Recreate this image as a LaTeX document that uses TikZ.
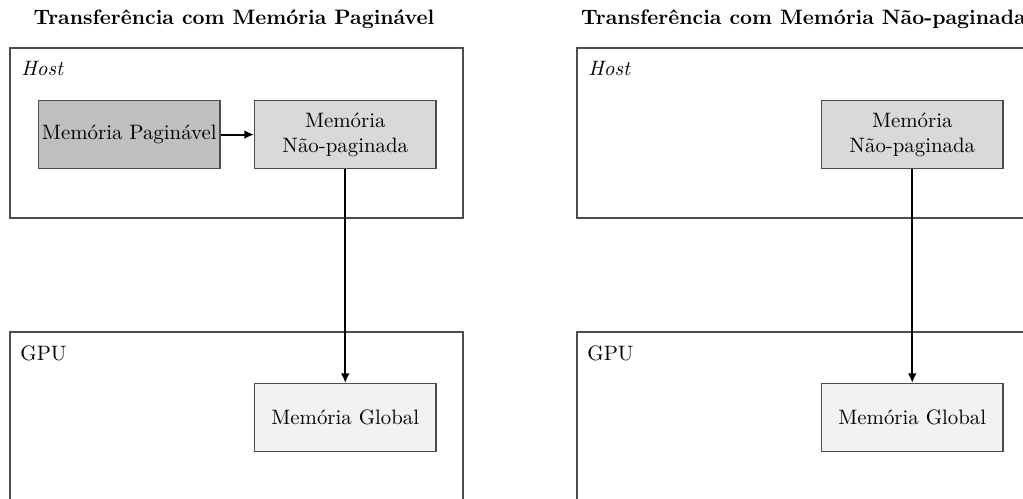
\documentclass[tikz,border=0pt]{standalone}
\usetikzlibrary{arrows.meta}
\definecolor{pagfill}{gray}{0.75}
\definecolor{pinfill}{gray}{0.85}
\definecolor{globfill}{gray}{0.95}
\tikzset{
  region/.style={draw=black!70, line width=0.6pt},
  membox/.style={draw=black!70, line width=0.6pt, minimum width=87pt, minimum height=32.6pt, inner sep=0pt, align=center, anchor=north west},
  flow/.style={-{Latex[length=4.6pt,width=4.2pt]}, line width=1pt},
  paneltitle/.style={font=\bfseries},
  regionlabel/.style={anchor=north west, inner sep=0pt}
}
\begin{document}
\begin{tikzpicture}[x=0.48pt,y=-0.48pt]
\useasboundingbox (0,0) rectangle (1023,499);
\clip (0,0) rectangle (1023,499);

% left panel: pageable memory path
\node[paneltitle] (t1) at (234,19) {Transferência com Memória Paginável};
\draw[region] (10,48) rectangle (463,218);
\node[regionlabel] (h1) at (21,61) {\textit{Host}};
\draw[region] (10,332) rectangle (463,520);
\node[regionlabel] (g1) at (20,345) {GPU};
\node[membox, fill=pagfill] (pag1) at (38,100) {Memória Paginável};
\node[membox, fill=pinfill] (pin1) at (254,100) {Memória\\Não-paginada};
\node[membox, fill=globfill] (glob1) at (254,383) {Memória Global};
\draw[flow] (pag1) -- (pin1);
\draw[flow] (pin1.south) -- (glob1.north);

% right panel: pinned memory path
\node[paneltitle] (t2) at (803.5,19) {Transferência com Memória Não-paginada};
\draw[region] (577,48) rectangle (1030,218);
\node[regionlabel] (h2) at (588,61) {\textit{Host}};
\draw[region] (577,332) rectangle (1030,520);
\node[regionlabel] (g2) at (587,345) {GPU};
\node[membox, fill=pinfill] (pin2) at (821,100) {Memória\\Não-paginada};
\node[membox, fill=globfill] (glob2) at (821,383) {Memória Global};
\draw[flow] (pin2.south) -- (glob2.north);
\end{tikzpicture}
\end{document}
